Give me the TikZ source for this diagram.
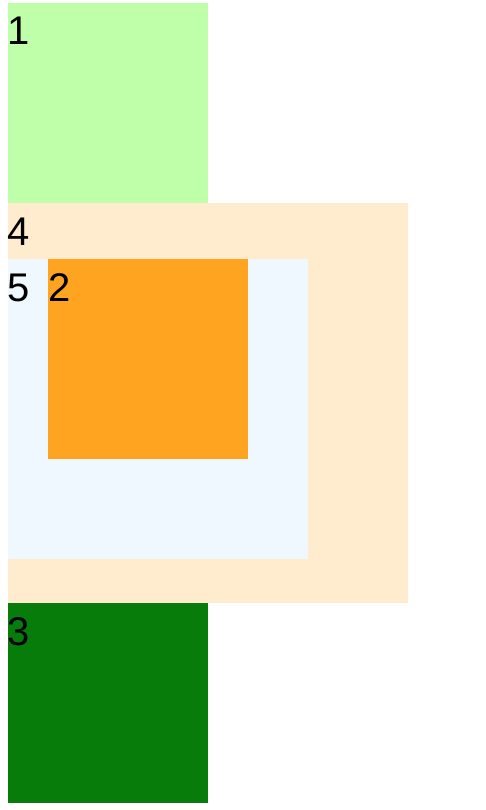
\documentclass[tikz,border=0pt]{standalone}
\usepackage{fontspec}
\setmainfont{Liberation Sans}
\definecolor{cone}{HTML}{BFFFAA}
\definecolor{cfour}{HTML}{FFEBCD}
\definecolor{cfive}{HTML}{F0F8FF}
\definecolor{ctwo}{HTML}{FFA421}
\definecolor{cthree}{HTML}{077C0B}
\tikzset{
  box/.style={draw=none, inner sep=0pt, outer sep=0pt, anchor=north west},
  lab/.style={inner sep=0pt, outer sep=0pt, anchor=base west, font=\fontsize{40}{48}\selectfont, text=black},
}
\begin{document}
\begin{tikzpicture}[x=1pt,y=-1pt]
\useasboundingbox (0,0) rectangle (486,810);
\node[box, fill=cone, minimum width=200pt, minimum height=200pt] (b1) at (8,3) {};
\node[box, fill=cfour, minimum width=400pt, minimum height=400pt] (b4) at (8,203) {};
\node[box, fill=cfive, minimum width=300pt, minimum height=300pt] (b5) at (8,259) {};
\node[box, fill=ctwo, minimum width=200pt, minimum height=200pt] (b2) at (48,259) {};
\node[box, fill=cthree, minimum width=200pt, minimum height=200pt] (b3) at (8,603) {};
\node[lab] (t1) at (8,45) {1};
\node[lab] (t4) at (8,245) {4};
\node[lab] (t5) at (8,301) {5};
\node[lab] (t2) at (48,301) {2};
\node[lab] (t3) at (8,645) {3};
\end{tikzpicture}
\end{document}
